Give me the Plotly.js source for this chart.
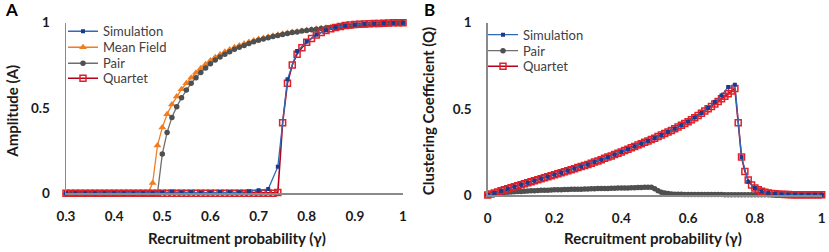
<!DOCTYPE html>
<html>
<head>
<meta charset="utf-8">
<script src="https://cdn.plot.ly/plotly-3.0.1.min.js"></script>
<style>html,body{margin:0;padding:0;background:#fff;}#chart{width:829px;height:252px;}</style>
</head>
<body>
<div id="chart"></div>
<script>
// ---------- Panel A data ----------
var gammaA = [0.30,0.31,0.32,0.33,0.34,0.35,0.36,0.37,0.38,0.39,0.40,0.41,0.42,0.43,0.44,0.45,0.46,0.47,0.48,0.49,
  0.50,0.51,0.52,0.53,0.54,0.55,0.56,0.57,0.58,0.59,0.60,0.61,0.62,0.63,0.64,0.65,0.66,0.67,0.68,0.69,
  0.70,0.71,0.72,0.73,0.74,0.75,0.76,0.77,0.78,0.79,0.80,0.81,0.82,0.83,0.84,0.85,0.86,0.87,0.88,0.89,
  0.90,0.91,0.92,0.93,0.94,0.95,0.96,0.97,0.98,0.99,1.00];
var meanFieldA = [0,0,0,0,0,0,0,0,0,0,0,0,0,0,0,0,0,0,0.06,0.28,
  0.385,0.463,0.52,0.568,0.61,0.645,0.678,0.707,0.733,0.757,0.778,0.797,0.814,0.829,0.843,0.856,0.867,0.877,0.887,0.896,
  0.904,0.911,0.918,0.924,0.93,0.935,0.94,0.945,0.949,0.953,0.957,0.96,0.964,0.967,0.97,0.973,0.975,0.978,0.98,0.982,
  0.984,0.986,0.988,0.99,0.991,0.993,0.994,0.996,0.997,0.999,1.0];
var pairA = [0,0,0,0,0,0,0,0,0,0,0,0,0,0,0,0,0,0,0,0,
  0.23,0.357,0.445,0.508,0.56,0.605,0.645,0.678,0.708,0.735,0.76,0.781,0.799,0.815,0.83,0.844,0.856,0.867,0.878,0.888,
  0.897,0.905,0.912,0.919,0.925,0.931,0.937,0.942,0.946,0.951,0.955,0.959,0.962,0.966,0.969,0.972,0.974,0.977,0.979,0.981,
  0.983,0.985,0.987,0.989,0.991,0.992,0.994,0.995,0.997,0.998,1.0];
var quartetA = [0,0,0,0,0,0,0,0,0,0,0,0,0,0,0,0,0,0,0,0,
  0,0,0,0,0,0,0,0,0,0,0,0,0,0,0,0,0,0,0,0,
  0,0,0,0,0.004,0.414,0.645,0.752,0.815,0.853,0.885,0.908,0.928,0.943,0.955,0.965,0.972,0.978,0.983,0.986,
  0.989,0.991,0.993,0.994,0.995,0.996,0.997,0.998,0.999,0.999,1.0];
var gammaSimA = [0.30,0.32,0.34,0.36,0.38,0.40,0.42,0.44,0.46,0.48,0.50,0.52,0.54,0.56,0.58,0.60,0.62,0.64,
  0.66,0.68,0.70,0.72,0.74,0.76,0.78,0.80,0.82,0.84,0.86,0.88,0.90,0.92,0.94,0.96,0.98,1.00];
var simulationA = [0,0,0,0,0,0,0,0,0,0,0.004,0.01,0.005,0.007,0.003,0.004,0.007,0.006,
  0.006,0.012,0.018,0.025,0.156,0.668,0.834,0.889,0.93,0.955,0.973,0.983,0.989,0.993,0.995,0.997,0.999,1.0];

// ---------- Panel B data ----------
var gammaB = [0.00,0.01,0.02,0.03,0.04,0.05,0.06,0.07,0.08,0.09,0.10,0.11,0.12,0.13,0.14,0.15,0.16,0.17,0.18,0.19,
  0.20,0.21,0.22,0.23,0.24,0.25,0.26,0.27,0.28,0.29,0.30,0.31,0.32,0.33,0.34,0.35,0.36,0.37,0.38,0.39,
  0.40,0.41,0.42,0.43,0.44,0.45,0.46,0.47,0.48,0.49,0.50,0.51,0.52,0.53,0.54,0.55,0.56,0.57,0.58,0.59,
  0.60,0.61,0.62,0.63,0.64,0.65,0.66,0.67,0.68,0.69,0.70,0.71,0.72,0.73,0.74,0.75,0.76,0.77,0.78,0.79,
  0.80,0.81,0.82,0.83,0.84,0.85,0.86,0.87,0.88,0.89,0.90,0.91,0.92,0.93,0.94,0.95,0.96,0.97,0.98,0.99,1.00];
var quartetQ = [0,0.006,0.012,0.018,0.024,0.03,0.036,0.042,0.048,0.054,0.06,0.066,0.071,0.077,0.083,0.089,0.095,0.1,0.106,0.112,
  0.118,0.124,0.129,0.135,0.141,0.147,0.153,0.159,0.165,0.171,0.177,0.184,0.191,0.198,0.205,0.213,0.22,0.227,0.235,0.242,
  0.25,0.258,0.266,0.274,0.282,0.29,0.298,0.306,0.314,0.322,0.33,0.339,0.348,0.357,0.366,0.375,0.385,0.395,0.405,0.415,
  0.425,0.437,0.449,0.461,0.474,0.487,0.5,0.514,0.528,0.543,0.558,0.573,0.588,0.603,0.618,0.42,0.22,0.137,0.087,0.058,
  0.04,0.03,0.022,0.016,0.012,0.009,0.007,0.005,0.004,0.003,0.003,0.002,0.002,0.002,0.002,0.001,0.001,0.001,0.001,0.001,0.001];
var pairQ = [0,0.004,0.007,0.01,0.012,0.014,0.016,0.018,0.019,0.02,0.021,0.022,0.023,0.024,0.025,0.026,0.027,0.028,0.028,0.029,
  0.03,0.03,0.031,0.032,0.032,0.033,0.033,0.034,0.034,0.035,0.035,0.036,0.036,0.037,0.037,0.038,0.038,0.039,0.039,0.04,
  0.04,0.041,0.041,0.042,0.042,0.043,0.044,0.045,0.045,0.045,0.036,0.024,0.016,0.011,0.008,0.006,0.005,0.004,0.004,0.003,
  0.003,0.003,0.003,0.003,0.003,0.003,0.003,0.003,0.003,0.003,0.003,0.002,0.002,0.002,0.002,0.002,0.002,0.002,0.002,0.002,
  0.002,0.002,0.002,0.002,0.002,0.002,0.001,0.001,0.001,0.001,0.001,0.001,0.001,0.001,0.001,0.001,0.001,0.001,0.001,0.001,0.001];
var gammaSimB = [0.00,0.02,0.04,0.06,0.08,0.10,0.12,0.14,0.16,0.18,0.20,0.22,0.24,0.26,0.28,0.30,0.32,0.34,0.36,0.38,
  0.40,0.42,0.44,0.46,0.48,0.50,0.52,0.54,0.56,0.58,0.60,0.62,0.64,0.66,0.68,0.70,0.72,0.74,0.76,0.78,
  0.80,0.82,0.84,0.86,0.88,0.90,0.92,0.94,0.96,0.98,1.00];
var simulationQ = [0,0.012,0.024,0.036,0.048,0.06,0.071,0.083,0.095,0.106,0.118,0.129,0.141,0.153,0.165,0.177,0.191,0.205,0.22,0.235,
  0.25,0.266,0.282,0.298,0.314,0.33,0.348,0.366,0.385,0.405,0.426,0.45,0.476,0.505,0.54,0.578,0.627,0.64,0.22,0.077,
  0.04,0.021,0.012,0.007,0.004,0.003,0.002,0.001,0.001,0.001,0.001];

var xTicksA = [0.3,0.4,0.5,0.6,0.7,0.8,0.9,1];
var xTicksB = [0,0.2,0.4,0.6,0.8,1];
var yTicks = [0,0.5,1];

// ---------- styles ----------
var blueLine = '#2e6bb5', blueMk = '#1c3a8c';
var orange = '#f07d22';
var grayLine = '#6e6e6e', grayMk = '#4f4f4f';
var redLine = '#b3001b', redMk = '#e0202a';
var FONT = 'Lato, "Open Sans", sans-serif';

function simTrace(x, y, xa, ya, lg) {
  return {x:x, y:y, xaxis:xa, yaxis:ya, legend:lg, name:'Simulation', type:'scatter', mode:'lines+markers',
    line:{color:blueLine, width:1.3}, marker:{symbol:'square', size:4, color:blueMk}, cliponaxis:false};
}
function pairTrace(x, y, xa, ya, lg) {
  return {x:x, y:y, xaxis:xa, yaxis:ya, legend:lg, name:'Pair', type:'scatter', mode:'lines+markers',
    line:{color:grayLine, width:1.3}, marker:{symbol:'circle', size:5.5, color:grayMk}, cliponaxis:false};
}
function quartetTrace(x, y, xa, ya, lg) {
  return {x:x, y:y, xaxis:xa, yaxis:ya, legend:lg, name:'Quartet', type:'scatter', mode:'lines+markers',
    line:{color:redLine, width:1.6}, marker:{symbol:'square-open', size:6, color:redMk, line:{width:1.5}}, cliponaxis:false};
}

var data = [
  {x:gammaA, y:meanFieldA, xaxis:'x', yaxis:'y', legend:'legend2', name:'Mean Field', type:'scatter', mode:'lines+markers',
    line:{color:orange, width:1.3}, marker:{symbol:'triangle-up', size:7, color:orange}, cliponaxis:false},
  pairTrace(gammaA, pairA, 'x', 'y', 'legend3'),
  quartetTrace(gammaA, quartetA, 'x', 'y', 'legend4'),
  simTrace(gammaSimA, simulationA, 'x', 'y', 'legend'),
  pairTrace(gammaB, pairQ, 'x2', 'y2', 'legend6'),
  quartetTrace(gammaB, quartetQ, 'x2', 'y2', 'legend7'),
  simTrace(gammaSimB, simulationQ, 'x2', 'y2', 'legend5')
];

var tickFont = {family:FONT, size:13.5, weight:'bold', color:'#1a1a1a'};
var axLine = '#8a8a8a';
function xAxis(dom, range, ticks, anchor) {
  return {domain:dom, range:range, anchor:anchor, tickvals:ticks, ticktext:ticks.map(String), showgrid:false, zeroline:false,
    showline:true, linecolor:axLine, linewidth:1.5, ticks:'', tickfont:tickFont, ticklabelstandoff:10, fixedrange:true};
}
function yAxis(dom, anchor) {
  return {domain:dom, range:[0,1], anchor:anchor, tickvals:yTicks, ticktext:yTicks.map(String), showgrid:false, zeroline:false,
    showline:true, linecolor:axLine, linewidth:1.5, ticks:'', tickfont:tickFont, ticklabelstandoff:12, fixedrange:true};
}
var titleFont = {family:FONT, size:15, weight:'bold', color:'#1a1a1a'};
var legFont = {family:FONT, size:13, color:'#404040'};
function leg(xpx, ypx) {
  return {x:xpx/829, y:1-ypx/252, xanchor:'left', yanchor:'middle', bgcolor:'rgba(0,0,0,0)', font:legFont, itemwidth:30};
}

var layout = {
  width:829, height:252, margin:{l:0, r:0, t:0, b:0}, paper_bgcolor:'#fff', plot_bgcolor:'rgba(0,0,0,0)',
  showlegend:true,
  xaxis: xAxis([66/829, 403/829], [0.3,1], xTicksA, 'y'),
  yaxis: yAxis([58.7/252, 229.3/252], 'x'),
  xaxis2: xAxis([487.7/829, 821.7/829], [0,1], xTicksB, 'y2'),
  yaxis2: yAxis([57/252, 229.3/252], 'x2'),
  legend: leg(63, 31.3),
  legend2: leg(63, 47.3),
  legend3: leg(63, 63.3),
  legend4: leg(63, 78.3),
  legend5: leg(483, 34.7),
  legend6: leg(483, 50.7),
  legend7: leg(483, 66.3),
  annotations: [
    {text:'A', xref:'paper', yref:'paper', x:11.5/829, y:1-9.5/252, xanchor:'center', yanchor:'middle', showarrow:false, font:{family:FONT, size:17, weight:'bold', color:'#000'}},
    {text:'B', xref:'paper', yref:'paper', x:429/829, y:1-9.5/252, xanchor:'center', yanchor:'middle', showarrow:false, font:{family:FONT, size:17, weight:'bold', color:'#000'}},
    {text:'Recruitment probability (γ)', xref:'paper', yref:'paper', x:237/829, y:1-238.3/252, xanchor:'center', yanchor:'middle', showarrow:false, font:titleFont},
    {text:'Recruitment probability (γ)', xref:'paper', yref:'paper', x:653/829, y:1-238.3/252, xanchor:'center', yanchor:'middle', showarrow:false, font:titleFont},
    {text:'Amplitude (A)', xref:'paper', yref:'paper', x:12/829, y:1-111.7/252, xanchor:'center', yanchor:'middle', textangle:-90, showarrow:false, font:titleFont},
    {text:'Clustering Coefficient (Q)', xref:'paper', yref:'paper', x:427.5/829, y:1-110.7/252, xanchor:'center', yanchor:'middle', textangle:-90, showarrow:false, font:titleFont}
  ]
};

Plotly.newPlot('chart', data, layout, {displayModeBar:false, staticPlot:true});
</script>
</body>
</html>
